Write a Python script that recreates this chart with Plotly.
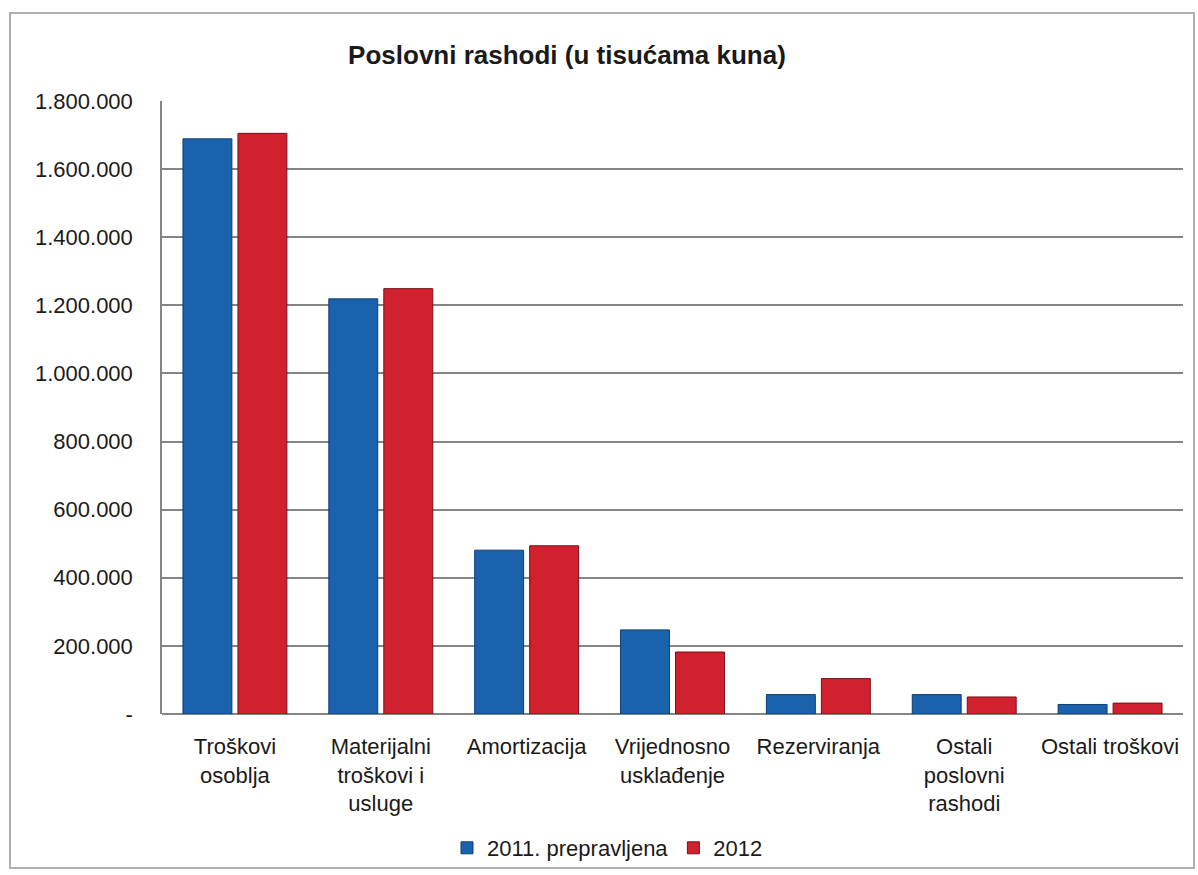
import plotly.graph_objects as go

categories = ["Troškovi<br>osoblja", "Materijalni<br>troškovi i<br>usluge", "Amortizacija",
              "Vrijednosno<br>usklađenje", "Rezerviranja", "Ostali<br>poslovni<br>rashodi", "Ostali troškovi"]
values_2011 = [1689000, 1219000, 481000, 247000, 57000, 57000, 28000]
values_2012 = [1705000, 1249000, 494000, 182000, 104000, 50000, 32000]
series_names = ["2011. prepravljena", "2012"]
tick_vals = [0, 200000, 400000, 600000, 800000, 1000000, 1200000, 1400000, 1600000, 1800000]
tick_text = ["-", "200.000", "400.000", "600.000", "800.000", "1.000.000", "1.200.000",
             "1.400.000", "1.600.000", "1.800.000"]

W, H = 1198, 875
L, R, T, B = 162, 15, 101, 161
pw, ph = W - L - R, H - T - B

def px_x(p):
    return (p - L) / pw

def px_y(p):
    return (H - B - p) / ph

fig = go.Figure()
fig.add_trace(go.Bar(x=categories, y=values_2011, name=series_names[0],
                     marker=dict(color="#1a62ab", line=dict(color="#0f3f73", width=1))))
fig.add_trace(go.Bar(x=categories, y=values_2012, name=series_names[1],
                     marker=dict(color="#d1212f", line=dict(color="#7a1018", width=1))))

fig.update_layout(
    width=W, height=H,
    margin=dict(l=L, r=R, t=T, b=B, autoexpand=False),
    paper_bgcolor="white", plot_bgcolor="white",
    font=dict(family="Liberation Sans, Arial, sans-serif", size=22, color="#1a1a1a"),
    title=dict(text="<b>Poslovni rashodi (u tisućama kuna)</b>", x=px_x(567), xanchor="center",
               xref="paper", y=1 - 55 / H, yanchor="middle", font=dict(size=26, color="#1a1a1a")),
    barmode="group", bargap=0.246, bargroupgap=0.11,
    showlegend=True,
    legend=dict(orientation="h", x=px_x(447), xanchor="left", y=px_y(827), yanchor="top",
                font=dict(size=22), itemwidth=30, tracegroupgap=0, traceorder="normal",
                bgcolor="rgba(0,0,0,0)"),
    xaxis=dict(showline=False, ticks="", tickfont=dict(size=22), tickangle=0,
               ticklabelstandoff=17, automargin=False),
    yaxis=dict(range=[0, 1800000], tickvals=tick_vals, ticktext=tick_text,
               showgrid=True, gridcolor="#858585", gridwidth=1.5,
               showline=True, linecolor="#858585", linewidth=1.5,
               zeroline=True, zerolinecolor="#858585", zerolinewidth=1.5,
               ticks="", ticklabelstandoff=23, tickfont=dict(size=22), automargin=False),
)

fig.add_shape(type="rect", xref="paper", yref="paper",
              x0=px_x(10), x1=px_x(1194), y0=px_y(868), y1=px_y(13),
              line=dict(color="#b0b0b0", width=2), fillcolor="rgba(0,0,0,0)", layer="below")

fig.write_html("out.html", config={"displayModeBar": False},
               post_script="document.body.style.margin='0';")
